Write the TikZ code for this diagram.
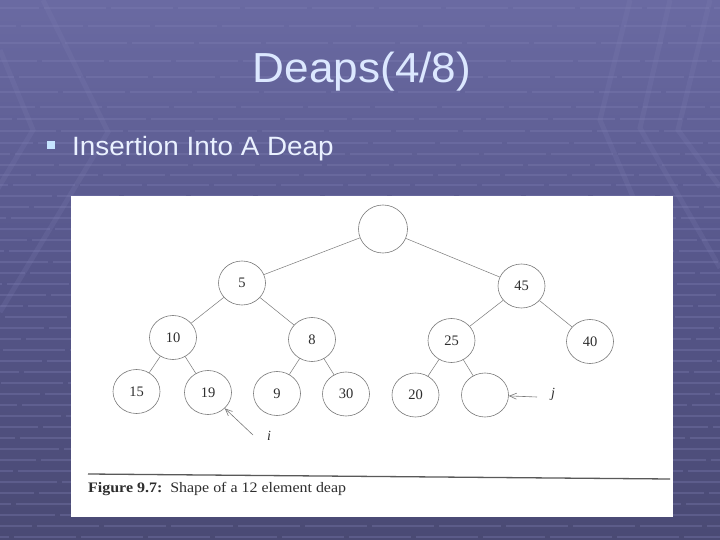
\documentclass[tikz,border=0pt]{standalone}
\usepackage{fontspec}
\setmainfont{Liberation Serif}
\newfontfamily\titlefont[FakeStretch=1.05]{Liberation Sans}
\newfontfamily\capfont[FakeStretch=1.1]{Liberation Serif}
\usetikzlibrary{shapes.geometric,arrows.meta}
\definecolor{bgtop}{HTML}{6A6AA2}
\definecolor{bgmid}{HTML}{56568A}
\definecolor{bgbot}{HTML}{4A4A74}
\definecolor{bgline}{HTML}{8080B4}
\definecolor{titlecol}{HTML}{DCE8FF}
\definecolor{bulletcol}{HTML}{C6E4FF}
\definecolor{inkgray}{HTML}{7A7A7A}
\definecolor{txtgray}{HTML}{2E2E2E}
\tikzset{
  hline/.style={bgline, line width=1.4pt, opacity=0.33},
  chev/.style={bgline, line width=5pt, opacity=0.2, line join=miter},
  treenode/.style={ellipse, draw=inkgray, line width=0.6pt, minimum width=47pt, minimum height=44pt, inner sep=0pt, text=txtgray, font=\fontsize{14.5}{16}\selectfont},
  rootnode/.style={treenode, minimum width=49pt, minimum height=48pt},
  edge/.style={inkgray, line width=0.5pt},
  ptr/.style={inkgray, line width=0.6pt, -{Straight Barb[length=7pt,width=6pt]}},
  ptrlabel/.style={text=txtgray, font=\fontsize{14}{16}\selectfont\itshape},
}
\begin{document}
\begin{tikzpicture}[x=1pt,y=-1pt]
\useasboundingbox (0,0) rectangle (720,540);
% background
\shade[top color=bgtop, bottom color=bgbot, middle color=bgmid] (0,0) rectangle (720,540);
\foreach \yy [count=\k] in {8,26,43,61,77,92,107,119,131,143,154,165,175,185,196,207,218,229,240,251,262,273,284,295,306,317,328,339,350,361,372,383,394,405,416,427,438,449,460,471,482,493,504,515,526,537}{
  \draw[hline, dash pattern=on 62pt off 5pt, dash phase=\k*23pt] (0,\yy) -- (720,\yy);
}
% chevrons
\draw[chev] (0,50) -- (33,130) -- (-30,235);
\draw[chev] (43,0) -- (108,132) -- (0,312);
\draw[chev] (630,0) -- (600,120) -- (660,260);
\draw[chev] (670,0) -- (640,128) -- (720,268);
\draw[chev] (710,0) -- (678,130) -- (720,187);
% title
\node[anchor=base, text=titlecol, font=\titlefont\fontsize{42}{48}\selectfont, inner sep=0pt] (title) at (362,83) {Deaps(4/8)};
\node[fill=bulletcol, minimum size=8.5pt, inner sep=0pt] (bullet) at (51,145) {};
\node[anchor=base west, text=titlecol!60!white, font=\titlefont\fontsize{26.5}{30}\selectfont, inner sep=0pt] (sub) at (72,156) {Insertion Into A Deap};
% figure panel
\fill[white] (71,196) rectangle (673,517);
% tree nodes
\node[rootnode] (root) at (383,229) {};
\node[treenode] (n5) at (242,283) {5};
\node[treenode] (n45) at (521.5,286) {45};
\node[treenode] (n10) at (173,337.5) {10};
\node[treenode] (n8) at (312,339.5) {8};
\node[treenode] (n25) at (451.5,340.5) {25};
\node[treenode] (n40) at (590,341.5) {40};
\node[treenode] (n15) at (136.5,391.5) {15};
\node[treenode] (n19) at (208,392.5) {19};
\node[treenode] (n9) at (277,393.5) {9};
\node[treenode] (n30) at (346,394) {30};
\node[treenode] (n20) at (415.5,395) {20};
\node[treenode] (ne) at (485,395) {};
% edges
\draw[edge] (root) -- (n5);
\draw[edge] (root) -- (n45);
\draw[edge] (n5) -- (n10);
\draw[edge] (n5) -- (n8);
\draw[edge] (n45) -- (n25);
\draw[edge] (n45) -- (n40);
\draw[edge] (n10) -- (n15);
\draw[edge] (n10) -- (n19);
\draw[edge] (n8) -- (n9);
\draw[edge] (n8) -- (n30);
\draw[edge] (n25) -- (n20);
\draw[edge] (n25) -- (ne);
% pointers
\coordinate (jt) at (537,397);
\coordinate (it) at (253,435);
\draw[ptr] (jt) -- (ne);
\draw[ptr] (it) -- (n19);
\node[ptrlabel] (jl) at (553,394) {j};
\node[ptrlabel] (il) at (269,436) {i};
% caption
\coordinate (cl1) at (88,474);
\coordinate (cl2) at (670,479);
\draw[line width=1.3pt, color=black!65] (cl1) -- (cl2);
\node[anchor=base west, inner sep=0pt, text=txtgray, font=\capfont\fontsize{14.5}{16}\selectfont] (cap) at (88,492) {\textbf{Figure 9.7:}\ \ Shape of a 12 element deap};
\end{tikzpicture}
\end{document}
